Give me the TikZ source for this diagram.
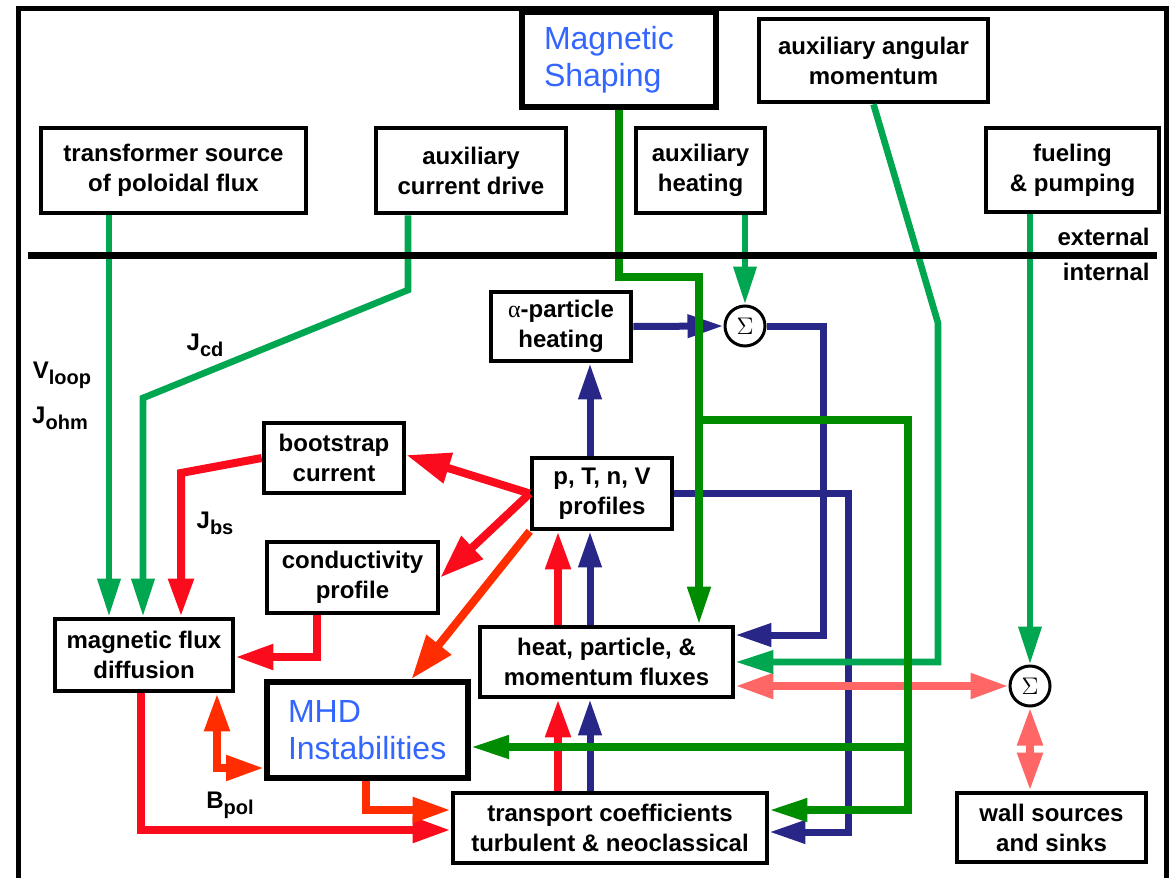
\documentclass[tikz,border=0pt]{standalone}
\usepackage{fontspec}
\setmainfont{Liberation Sans}
\newfontfamily\greekserif{Liberation Serif}
\usetikzlibrary{arrows.meta}

\definecolor{flowgreen}{RGB}{0,166,80}
\definecolor{shapegreen}{RGB}{0,140,0}
\definecolor{profnavy}{RGB}{40,38,135}
\definecolor{fluxred}{RGB}{250,12,28}
\definecolor{mhdred}{RGB}{255,45,0}
\definecolor{wallpink}{RGB}{255,102,102}
\definecolor{labelblue}{RGB}{51,102,255}

\newcommand{\sublbl}[2]{#1\raisebox{-0.45ex}{\fontsize{10}{12}\selectfont #2}}

\begin{document}
\begin{tikzpicture}[x=0.5pt,y=-0.5pt,
  box/.style={draw, line width=2.3pt, align=center, inner sep=0pt,
    font=\fontsize{12}{15}\selectfont\bfseries},
  bluebox/.style={draw, line width=3pt, align=left, inner ysep=0pt,
    text=labelblue, font=\fontsize{16}{18.5}\selectfont},
  sumnode/.style={draw, circle, line width=1.5pt, minimum size=20pt,
    inner sep=0pt, font=\fontsize{12}{12}\selectfont},
  lab/.style={inner sep=0pt, font=\fontsize{12}{14}\selectfont\bfseries},
  lg/.style={draw=flowgreen, line width=3.3pt, -{Triangle[length=19pt,width=11pt]}},
  dg/.style={draw=shapegreen, line width=3.7pt, -{Triangle[length=19pt,width=11pt]}},
  nv/.style={draw=profnavy, line width=3.5pt, -{Triangle[length=18pt,width=11pt]}},
  rd/.style={draw=fluxred, line width=4pt, -{Triangle[length=19pt,width=12pt]}},
  og/.style={draw=mhdred, line width=4pt, -{Triangle[length=19pt,width=12pt]}},
  bigtip/.style={-{Triangle[length=22pt,width=15pt]}},
  bothtip/.style={{Triangle[length=19pt,width=12pt]}-{Triangle[length=19pt,width=12pt]}},
  sm/.style={draw=wallpink, line width=4pt, bothtip}
]
\useasboundingbox (0,0) rectangle (1171,878);

% frame
\draw[line width=2.5pt] (18,878) -- (18,8) -- (1166,8) -- (1166,878);

% external
\node[box, minimum width=132.5pt, minimum height=42.5pt] (tsrc) at (173.5,170.5) {transformer source\\of poloidal flux};
\node[box, minimum width=95pt, minimum height=42.5pt] (acd) at (471,170.5) {auxiliary\\current drive};
\node[bluebox, text width=75pt, inner xsep=11pt, minimum height=47.5pt] (mshape) at (619,59.5) {Magnetic\\Shaping};
\node[box, minimum width=64.5pt, minimum height=42.5pt] (aheat) at (700.5,170.5) {auxiliary\\heating};
\node[box, minimum width=114.5pt, minimum height=41.5pt] (aang) at (873.5,60.5) {auxiliary angular\\momentum};
\node[box, minimum width=86.5pt, minimum height=42pt] (fuel) at (1072.5,170) {fueling\\\& pumping};

% internal
\node[box, minimum width=70pt, minimum height=34.5pt] (alpha) at (561,326.5) {{\greekserif\mdseries α}-particle\\heating};
\node[box, minimum width=70pt, minimum height=35pt] (boot) at (334,458) {bootstrap\\current};
\node[box, minimum width=70pt, minimum height=35.5pt] (prof) at (602,493.5) {p, T, n, V\\profiles};
\node[box, minimum width=85.5pt, minimum height=35.5pt] (cond) at (352.5,577.5) {conductivity\\profile};
\node[box, minimum width=89pt, minimum height=36pt] (mfd) at (144,655) {magnetic flux\\diffusion};
\node[bluebox, text width=79.5pt, inner xsep=10.5pt, minimum height=48pt] (mhd) at (367.5,730) {MHD\\Instabilities};
\node[box, minimum width=126.5pt, minimum height=35pt] (heat) at (606.5,662) {heat, particle, \&\\momentum fluxes};
\node[box, minimum width=157pt, minimum height=35pt] (trans) at (610,828) {transport coefficients\\turbulent \& neoclassical};
\node[box, minimum width=94.5pt, minimum height=34.5pt] (wall) at (1051.5,827.5) {wall sources\\and sinks};
\node[sumnode] (sig1) at (745,326) {$\Sigma$};
\node[sumnode] (sig2) at (1030,686) {$\Sigma$};

\node[lab] (vloop) at (62,375) {\sublbl{V}{loop}};
\node[lab] (johm) at (60,418) {\sublbl{J}{ohm}};
\node[lab] (jcd) at (205,345) {\sublbl{J}{cd}};
\node[lab] (jbs) at (215,523) {\sublbl{J}{bs}};
\node[lab] (bpol) at (230,805) {\sublbl{B}{pol}};

% bend points
\coordinate (xvl) at (109,0);
\coordinate (cd1) at (408,290);
\coordinate (cd2) at (143,398);
\coordinate (am1) at (938,323);
\coordinate (ms1) at (699,277);
\coordinate (ms2) at (699,420);
\coordinate (ms3) at (908,420);
\coordinate (ms4) at (908,747);
\coordinate (xnv) at (590,0);
\coordinate (xrd) at (558,0);
\coordinate (n3) at (823,326);
\coordinate (n4) at (848,0);
\coordinate (bs1) at (181,473);
\coordinate (cp1) at (317,657);
\coordinate (bp1) at (141,830);
\coordinate (mh1) at (366,810);
\coordinate (mh2) at (217,768);

% red
\draw[rd] (heat.north -| xrd) -- (prof.south -| xrd);
\draw[rd] (trans.north -| xrd) -- (heat.south -| xrd);
\draw[rd,bigtip] (prof.west) -- ([yshift=1.5pt]boot.east);
\draw[rd,bigtip] (prof.west) -- (cond.east);
\draw[rd] (boot.west) -- (bs1) -- (mfd.north -| bs1);
\draw[rd] (cond.south -| cp1) -- (cp1) -- (mfd.east |- cp1);
\draw[rd] (mfd.south -| bp1) -- (bp1) -- (trans.west |- bp1);
\draw[og,bigtip] (prof.south west) -- ([xshift=22pt]mhd.north);
\draw[og] (mhd.south -| mh1) -- (mh1) -- (trans.west |- mh1);
\draw[og,bothtip] (mfd.south -| mh2) -- (mh2) -- (mhd.west |- mh2);

% navy
\draw[nv] (alpha.east) -- (sig1.west);
\draw[nv] (prof.north -| xnv) -- (alpha.south -| xnv);
\draw[nv] (sig1.east) -- (n3) |- ([yshift=13.5pt]heat.east);
\draw[nv] (prof.east) -- (prof.east -| n4) |- ([yshift=-2pt]trans.east);
\draw[nv] (heat.north -| xnv) -- (prof.south -| xnv);
\draw[nv] (trans.north -| xnv) -- (heat.south -| xnv);

% walls
\draw[sm] (heat.east |- sig2.west) -- (sig2.west);
\draw[sm] (sig2.south) -- (wall.north -| sig2.south);

% green
\draw[lg] (tsrc.south -| xvl) -- (mfd.north -| xvl);
\draw[lg] (acd.south -| cd1) -- (cd1) -- (cd2) -- (mfd.north -| cd2);
\draw[lg] (aheat.south -| sig1.north) -- (sig1.north);
\draw[lg] (aang.south) -- (am1) |- (heat.east);
\draw[lg] (fuel.south -| sig2.north) -- (sig2.north);
\draw[dg] (mshape.south) |- (ms1) -- (heat.north -| ms1);
\draw[dg] (ms2) -- (ms3) |- ([yshift=9pt]trans.east);
\draw[dg] (ms4) -- (mhd.east |- ms4);

% external / internal
\draw[line width=3.5pt] (28,255) -- (1157,255);
\node[lab, anchor=east] (ext) at (1150,237) {external};
\node[lab, anchor=east] (int) at (1150,272) {internal};

\end{tikzpicture}
\end{document}
